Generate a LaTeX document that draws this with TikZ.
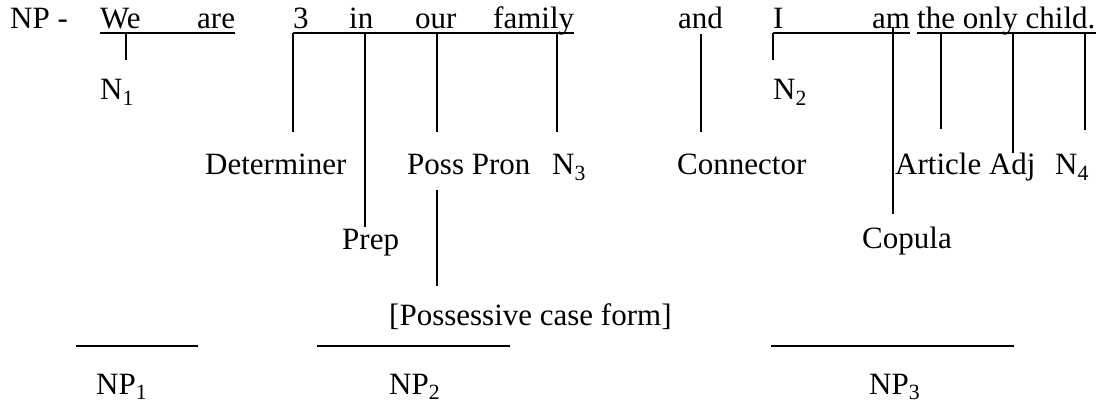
\documentclass[tikz,border=0pt]{standalone}
\usepackage{fontspec}
\setmainfont{Liberation Serif}
\newfontfamily\timesfont{Liberation Serif}
\usetikzlibrary{positioning}

\begin{document}
\begin{tikzpicture}[
    x=1pt, y=-1pt,
    word/.style={anchor=base west, inner sep=0pt, font=\timesfont\fontsize{31}{36}\selectfont},
    uline/.style={line width=1.5pt},
    stem/.style={line width=1.2pt, shorten >=22.5pt},
    rule/.style={line width=2pt}
]
\useasboundingbox (0,0) rectangle (1099,403);

% Sentence
\node[word] (np)     at (10,29)  {NP -};
\node[word] (we)     at (100,29) {We};
\node[word] (are)    at (197,29) {are};
\node[word] (three)  at (293,29) {3};
\node[word] (in)     at (349,29) {in};
\node[word] (our)    at (415,29) {our};
\node[word] (family) at (493,29) {family};
\node[word] (and)    at (678,29) {and};
\node[word] (i)      at (773,29) {I};
\node[word] (am)     at (872,29) {am};
\node[word] (child)  at (917,29) {the only child.};

% Underlines
\draw[uline] ([yshift=-4pt]we.base west) -- ([yshift=-4pt]are.base east);
\draw[uline] ([yshift=-4pt]three.base west) -- ([yshift=-4pt]family.base east);
\draw[uline] ([yshift=-4pt]i.base west) -- ([yshift=-4pt]am.base east);
\draw[uline] ([yshift=-4pt]child.base west) -- ([yshift=-4pt]child.base east);

% Labels
\node[word] (n1)       at (100,100) {N\textsubscript{1}};
\node[word] (n2)       at (773,100) {N\textsubscript{2}};
\node[word] (det)      at (205,175) {Determiner};
\node[word] (poss)     at (407,175) {Poss Pron};
\node[word] (n3)       at (552,175) {N\textsubscript{3}};
\node[word] (conn)     at (677,175) {Connector};
\node[word] (artadj)   at (895,175) {Article Adj};
\node[word] (n4)       at (1055,175) {N\textsubscript{4}};
\node[word] (prep)     at (342,250) {Prep};
\node[word] (cop)      at (862,248) {Copula};
\node[word] (possform) at (389,325) {[Possessive case form]};

% Stems
\coordinate (sWe)    at (126,33);
\coordinate (sThree) at (293,33);
\coordinate (sIn)    at (365,33);
\coordinate (sOur)   at (437,33);
\coordinate (sFam)   at (557,33);
\coordinate (sAnd)   at (701,34);
\coordinate (sI)     at (773,33);
\coordinate (sAm)    at (893,27);
\coordinate (sThe)   at (941,33);
\coordinate (sOnly)  at (1013,33);
\coordinate (sChild) at (1085,33);

\draw[stem, shorten >=19.5pt] (sWe) -- (sWe |- n1.north);
\draw[stem] (sThree) -- (sThree |- det.north);
\draw[stem, shorten >=2.5pt] (sIn) -- (sIn |- prep.north);
\draw[stem] (sOur) -- (sOur |- poss.north);
\draw[stem] (sFam) -- (sFam |- n3.north);
\draw[stem] (sAnd) -- (sAnd |- conn.north);
\draw[stem, shorten >=19.5pt] (sI) -- (sI |- n2.north);
\draw[stem, shorten >=12.5pt] (sAm) -- (sAm |- cop.north);
\draw[stem, shorten >=24.5pt] (sThe) -- (sThe |- artadj.north);
\draw[stem, shorten >=0pt] (sOnly) -- (sOnly |- artadj.north);
\draw[stem, shorten >=24.5pt] (sChild) -- (sChild |- n4.north);
\draw[stem, shorten <=15pt, shorten >=17pt] (sOur |- poss.base) -- (sOur |- possform.north);

% Noun phrases
\draw[rule] (76,346) -- (198,346);
\draw[rule] (317,346) -- (510,346);
\draw[rule] (771,346) -- (1014,346);
\node[word] (np1) at (96,394)  {NP\textsubscript{1}};
\node[word] (np2) at (389,394) {NP\textsubscript{2}};
\node[word] (np3) at (869,394) {NP\textsubscript{3}};

\end{tikzpicture}
\end{document}
